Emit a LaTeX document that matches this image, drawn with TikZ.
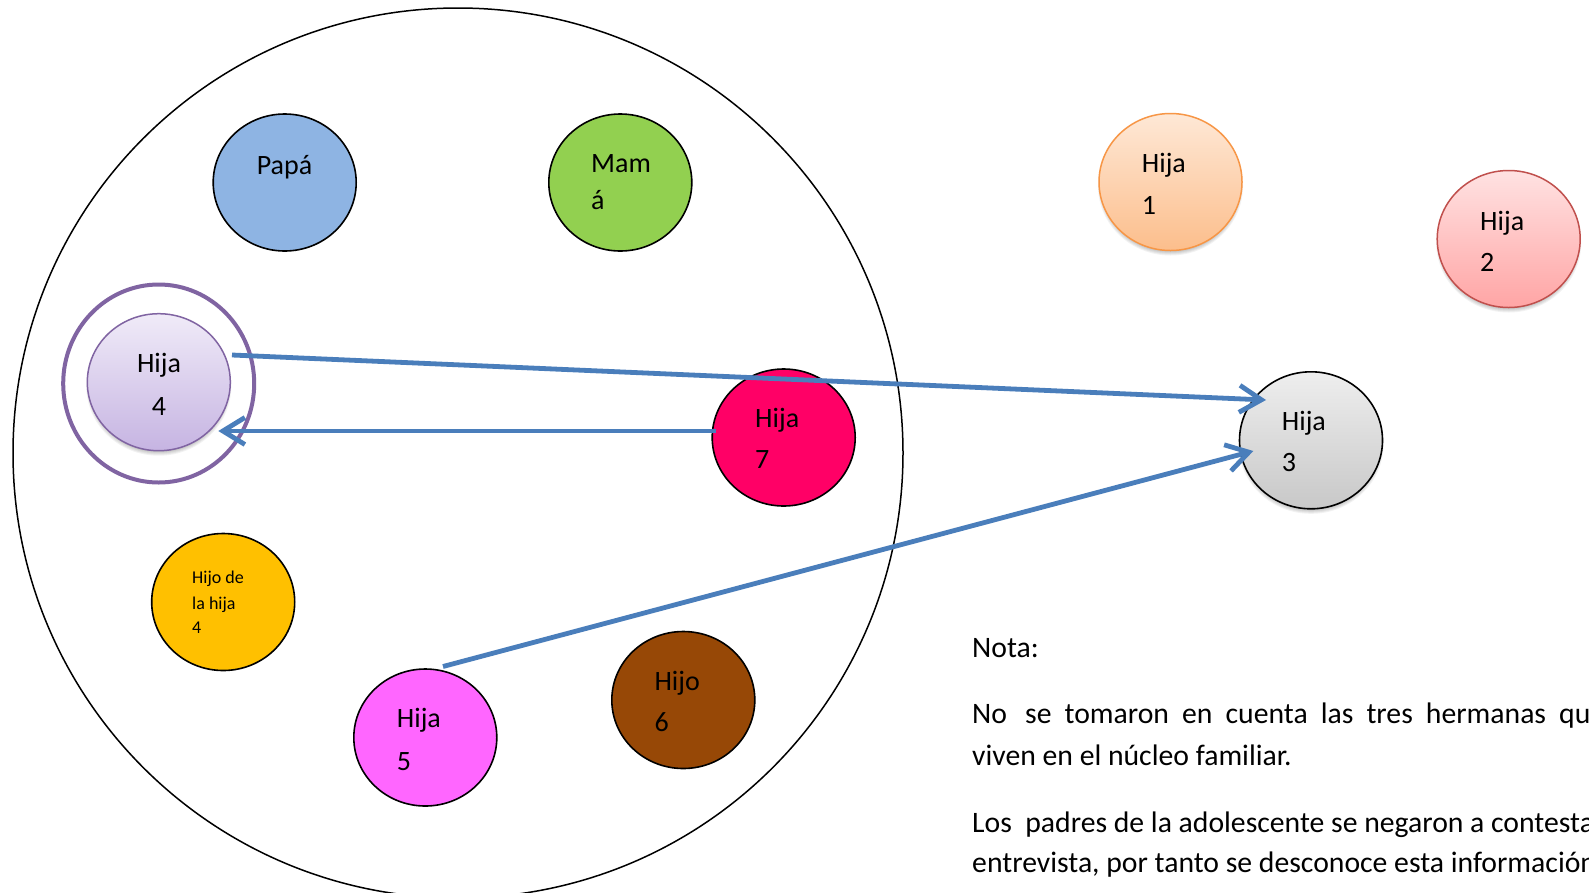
\documentclass[tikz,border=0pt]{standalone}
\usepackage{fontspec}
\setmainfont{Carlito}
\usetikzlibrary{shapes.geometric,arrows.meta,calc}
\definecolor{lineblue}{RGB}{74,126,187}
\definecolor{papablue}{RGB}{142,180,227}
\definecolor{mamagreen}{RGB}{146,208,80}
\definecolor{hijaseven}{RGB}{255,0,102}
\definecolor{hijoyellow}{RGB}{255,192,0}
\definecolor{hijafive}{RGB}{255,102,255}
\definecolor{hijosix}{RGB}{151,72,6}
\definecolor{ringpurple}{RGB}{128,100,162}
\definecolor{orangeedge}{RGB}{247,150,70}
\definecolor{orangetop}{RGB}{254,232,214}
\definecolor{orangebot}{RGB}{252,190,140}
\definecolor{rededge}{RGB}{192,80,77}
\definecolor{redtop}{RGB}{255,226,226}
\definecolor{redbot}{RGB}{255,165,165}
\definecolor{graytop}{RGB}{238,238,238}
\definecolor{graybot}{RGB}{200,200,200}
\definecolor{lilactop}{RGB}{240,235,248}
\definecolor{lilacbot}{RGB}{198,180,226}
\newcommand\mysoftshadow[2]{\foreach \k in {0,...,5}{\fill[black,opacity=0.05] (#1,#2+4) ellipse ({67.5+\k} and {64.5+\k});}}
\begin{document}
\begin{tikzpicture}[x=1pt,y=-1pt,
  circ/.style={ellipse, draw=black, line width=1.6pt, inner sep=0pt, minimum width=143pt, minimum height=137pt},
  lbl/.style={anchor=base west, inner sep=0pt, font=\fontsize{28}{34}\selectfont},
  lblc/.style={anchor=base, inner sep=0pt, font=\fontsize{28}{34}\selectfont},
  lbls/.style={anchor=base west, inner sep=0pt, font=\fontsize{18}{22}\selectfont},
  note/.style={anchor=base west, inner sep=0pt, font=\fontsize{29.7}{36}\selectfont},
  conn/.style={draw=lineblue, line width=4.8pt, -{Straight Barb[length=22pt,width=27pt]}}
]
\clip (0,0) rectangle (1589,892);
\fill[white] (0,0) rectangle (1589,892);

% family circle
\node[circle, draw=black, line width=1.5pt, inner sep=0pt, minimum size=890pt] (fam) at (458,453) {};

% members inside
\node[circ, fill=papablue] (papa) at (284.7,182.5) {};
\node[lblc] (papat) at (284.5,174) {Papá};

\node[circ, fill=mamagreen] (mama) at (620.3,182.5) {};
\node[lbl] (mamat1) at (591,172) {Mam};
\node[lbl] (mamat2) at (591,209.5) {á};

\node[ellipse, draw=ringpurple, line width=4pt, inner sep=0pt, minimum width=191pt, minimum height=198pt] (ring) at (158.7,383.5) {};
\mysoftshadow{158.8}{382.2}
\node[circ, draw=ringpurple, line width=1.5pt, top color=lilactop, bottom color=lilacbot] (h4) at (158.8,382.2) {};
\node[lblc] (h4a) at (159,372.5) {Hija};
\node[lblc] (h4b) at (159,415) {4};

\node[circ, fill=hijaseven] (h7) at (783.7,437.5) {};
\node[lbl] (h7a) at (755,427) {Hija};
\node[lbl] (h7b) at (755,468.5) {7};

\node[circ, fill=hijoyellow] (nieto) at (223.2,602) {};
\node[lbls] (nt1) at (192,583) {Hijo de};
\node[lbls] (nt2) at (192,609) {la hija};
\node[lbls] (nt3) at (192,633.5) {4};

\node[circ, fill=hijafive] (h5) at (425.3,737.5) {};
\node[lbl] (h5a) at (396.7,727.3) {Hija};
\node[lbl] (h5b) at (396.7,770) {5};

\node[circ, fill=hijosix] (h6) at (683.3,700) {};
\node[lbl] (h6a) at (654.3,690.7) {Hijo};
\node[lbl] (h6b) at (654.3,731.7) {6};

% outside
\mysoftshadow{1170.5}{182}
\node[circ, draw=orangeedge, line width=1.5pt, top color=orangetop, bottom color=orangebot] (h1) at (1170.5,182) {};
\node[lbl] (h1a) at (1141.7,172.7) {Hija};
\node[lbl] (h1b) at (1141.7,214.3) {1};

\mysoftshadow{1508.7}{239}
\node[circ, draw=rededge, line width=1.5pt, top color=redtop, bottom color=redbot] (h2) at (1508.7,239) {};
\node[lbl] (h2a) at (1480,230) {Hija};
\node[lbl] (h2b) at (1480,271) {2};

\mysoftshadow{1311}{440.3}
\node[circ, top color=graytop, bottom color=graybot] (h3) at (1311,440.3) {};
\node[lbl] (h3a) at (1281.7,430) {Hija};
\node[lbl] (h3b) at (1281.7,471.7) {3};

% connectors
\coordinate (a1s) at ($(h4)+(73.2,-27.2)$);
\coordinate (a1e) at ($(h3)+(-45,-40.3)$);
\draw[conn] (a1s) -- (a1e);

\coordinate (a2s) at ($(h7)+(-67.5,-6.5)$);
\coordinate (a2e) at ($(h4)+(59.5,48.8)$);
\draw[conn] (a2s) -- (a2e);

\coordinate (a3s) at ($(h5)+(17.7,-71)$);
\coordinate (a3e) at ($(h3)+(-57.7,10.7)$);
\draw[conn] (a3s) -- (a3e);

% note
\node[note] (nota) at (972,657) {Nota:};
\node[note] (n1) at (972,723.5) {\makebox[633pt][s]{No\kern5pt{} se tomaron en cuenta las tres hermanas que}};
\node[note] (n2) at (972,765) {viven en el núcleo familiar.};
\node[note] (n3) at (972,832) {Los\ \ padres de la adolescente se negaron a contestar la};
\node[note] (n4) at (972,872.5) {entrevista, por tanto se desconoce esta información.};
\end{tikzpicture}
\end{document}
